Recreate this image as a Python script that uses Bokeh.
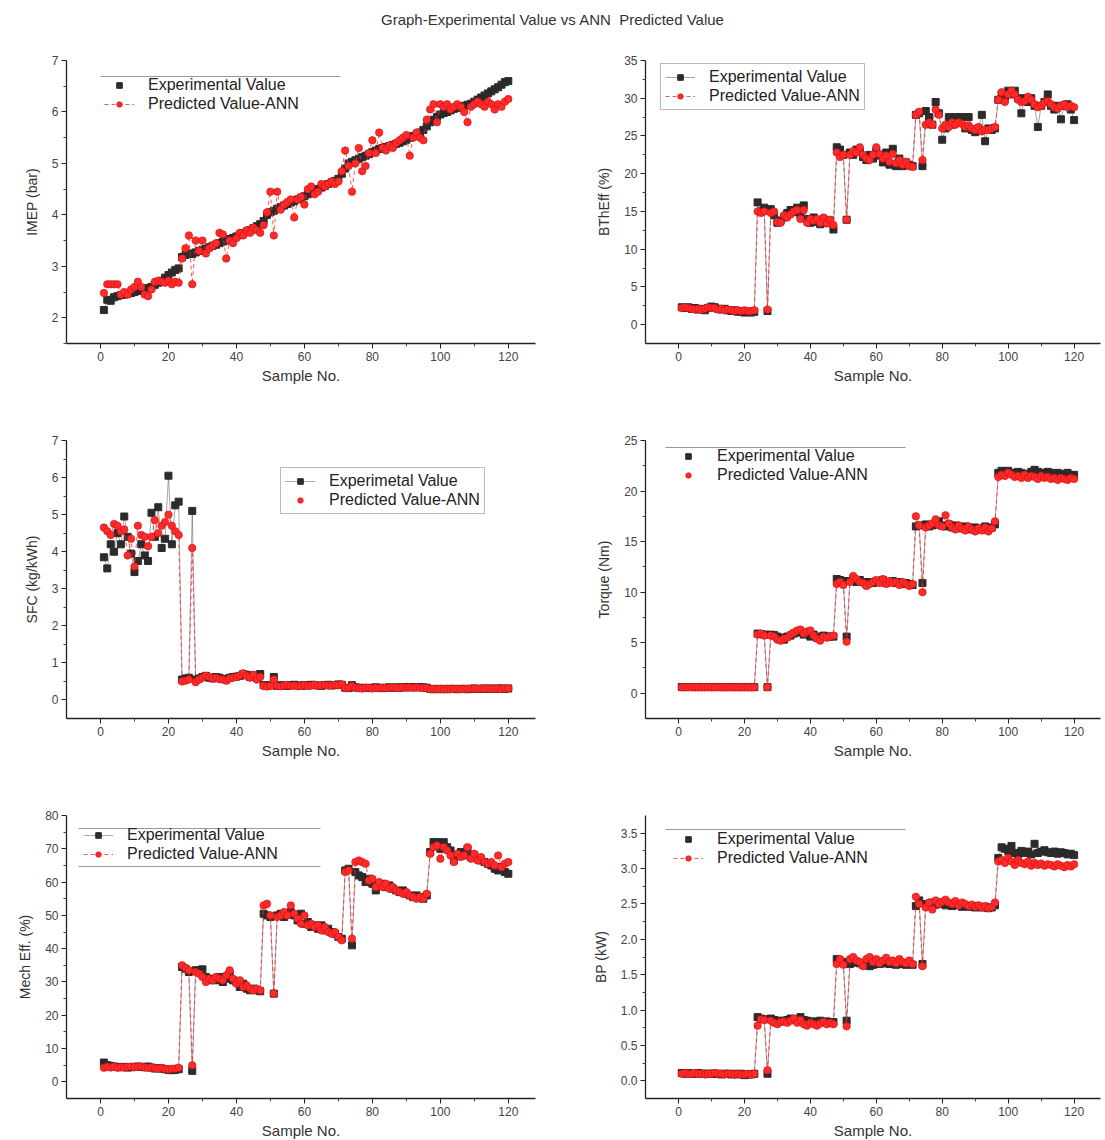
from bokeh.plotting import figure
from bokeh.models import FixedTicker, Legend, LegendItem, Div, Range1d, PrintfTickFormatter, BoxAnnotation
from bokeh.layouts import column, row
from bokeh.embed import file_html
from bokeh.resources import INLINE

samples = list(range(1, 121))

imep_exp = [
    2.15, 2.35, 2.33, 2.40, 2.42, 2.44, 2.45, 2.47, 2.48, 2.50,
    2.52, 2.54, 2.55, 2.58, 2.60, 2.64, 2.68, 2.72, 2.78, 2.83,
    2.88, 2.93, 2.96, 3.18, 3.22, 3.25, 3.24, 3.27, 3.30, 3.32,
    3.34, 3.37, 3.40, 3.42, 3.45, 3.48, 3.50, 3.53, 3.55, 3.58,
    3.61, 3.64, 3.67, 3.70, 3.74, 3.78, 3.82, 3.88, 4.00, 4.05,
    4.08, 4.12, 4.15, 4.18, 4.21, 4.24, 4.27, 4.30, 4.33, 4.36,
    4.40, 4.43, 4.47, 4.50, 4.53, 4.56, 4.60, 4.63, 4.66, 4.70,
    4.80, 4.90, 5.00, 5.03, 5.06, 5.09, 5.12, 5.15, 5.18, 5.22,
    5.25, 5.28, 5.30, 5.32, 5.34, 5.36, 5.38, 5.40, 5.43, 5.46,
    5.50, 5.53, 5.56, 5.60, 5.65, 5.72, 5.80, 5.85, 5.90, 5.95,
    5.98, 6.00, 6.03, 6.06, 6.08, 6.10, 6.12, 6.14, 6.16, 6.20,
    6.24, 6.28, 6.32, 6.36, 6.40, 6.44, 6.48, 6.53, 6.58, 6.60,
]
imep_pred = [
    2.48, 2.65, 2.65, 2.65, 2.65, 2.45, 2.50, 2.45, 2.55, 2.60,
    2.70, 2.60, 2.45, 2.42, 2.55, 2.70, 2.72, 2.70, 2.68, 2.72,
    2.65, 2.70, 2.68, 3.15, 3.35, 3.60, 2.65, 3.50, 3.30, 3.50,
    3.25, 3.35, 3.40, 3.45, 3.65, 3.62, 3.15, 3.50, 3.45, 3.55,
    3.65, 3.60, 3.70, 3.65, 3.75, 3.70, 3.65, 3.80, 4.05, 4.45,
    3.60, 4.45, 4.10, 4.20, 4.25, 4.30, 3.95, 4.30, 4.35, 4.20,
    4.50, 4.55, 4.40, 4.45, 4.60, 4.55, 4.60, 4.65, 4.60, 4.65,
    4.85, 5.25, 4.95, 4.45, 5.00, 5.30, 4.85, 4.95, 5.20, 5.45,
    5.20, 5.60, 5.30, 5.25, 5.35, 5.30, 5.40, 5.45, 5.50, 5.55,
    5.15, 5.50, 5.60, 5.50, 5.45, 5.85, 6.05, 6.15, 5.80, 6.15,
    6.10, 6.15, 6.05, 6.10, 6.15, 6.10, 6.00, 5.80, 6.10, 6.15,
    6.20, 6.15, 6.10, 6.20, 6.15, 6.05, 6.15, 6.10, 6.20, 6.25,
]

bth_exp = [
    2.3, 2.2, 2.3, 2.1, 2.2, 2.0, 2.1, 1.9, 2.2, 2.4,
    2.3, 2.1, 2.0, 2.1, 1.9, 1.8, 1.9, 1.7, 1.8, 1.6,
    1.7, 1.6, 1.7, 16.2, 15.0, 15.5, 1.8, 15.3, 14.5, 13.5,
    13.8, 14.2, 14.8, 15.2, 14.9, 15.5, 14.5, 15.8, 14.0, 13.5,
    14.2, 13.6, 13.3, 14.0, 13.5, 13.8, 12.6, 23.5, 23.2, 22.5,
    13.9, 22.8, 22.5, 23.2, 23.0, 22.2, 21.8, 22.5, 22.0, 23.0,
    22.4, 21.5, 22.8, 21.2, 23.3, 21.0, 22.0, 21.0, 21.5, 21.2,
    21.0, 27.8, 28.0, 21.0, 28.3, 27.5, 26.5, 29.5, 28.0, 24.5,
    26.0, 27.5, 26.5, 27.5, 26.8, 27.5, 26.0, 27.5, 25.8, 25.5,
    26.0, 27.8, 24.3, 26.0, 25.8, 26.0, 29.8, 30.5, 30.0, 31.0,
    30.5, 31.0, 30.0, 28.0, 30.0, 29.5, 30.0, 29.0, 26.2, 29.0,
    29.5, 30.5, 29.0, 28.5, 29.0, 27.2, 29.0, 29.2, 28.5, 27.1,
]
bth_pred = [
    2.2, 2.3, 2.2, 2.1, 2.0, 2.1, 2.0, 2.1, 2.3, 2.2,
    2.2, 2.0, 2.1, 1.9, 2.0, 1.9, 1.8, 1.9, 1.8, 1.9,
    1.8, 1.8, 1.9, 15.0, 14.8, 15.0, 2.0, 14.8, 15.0, 13.6,
    13.5, 14.5, 14.2, 14.6, 15.0, 15.2, 14.0, 15.2, 13.5, 14.0,
    13.8, 14.0, 13.5, 14.2, 13.4, 13.9, 13.2, 22.8, 22.2, 22.5,
    13.9, 22.5, 23.0, 22.8, 23.5, 22.5, 22.0, 21.8, 22.5, 23.5,
    22.6, 22.0, 22.4, 21.6, 22.6, 21.4, 21.8, 21.2, 21.6, 21.0,
    20.9, 27.8, 28.2, 21.8, 26.5, 26.8, 26.5, 28.5, 27.8, 26.0,
    26.5, 26.2, 26.8, 26.5, 26.8, 26.6, 26.2, 26.4, 26.0, 25.8,
    26.2, 25.6, 25.8, 25.8, 26.0, 26.2, 29.8, 30.8, 29.5, 30.5,
    31.0, 30.5, 29.8, 29.5, 29.6, 30.2, 29.8, 29.2, 28.8, 29.0,
    29.4, 29.6, 29.2, 28.8, 28.6, 29.0, 29.2, 28.8, 29.0, 28.8,
]

sfc_exp = [
    3.85, 3.55, 4.20, 4.00, 4.50, 4.20, 4.95, 4.40, 3.95, 3.45,
    3.75, 4.20, 3.90, 3.75, 5.05, 4.40, 5.20, 4.10, 4.35, 6.05,
    4.20, 5.25, 5.35, 0.55, 0.58, 0.60, 5.10, 0.55, 0.58, 0.62,
    0.65, 0.60, 0.58, 0.62, 0.60, 0.57, 0.55, 0.60, 0.62, 0.63,
    0.65, 0.70, 0.68, 0.62, 0.66, 0.60, 0.70, 0.40, 0.38, 0.40,
    0.62, 0.38, 0.40, 0.39, 0.38, 0.40, 0.41, 0.39, 0.38, 0.40,
    0.39, 0.41, 0.40, 0.39, 0.38, 0.40, 0.41, 0.39, 0.40, 0.42,
    0.41, 0.33, 0.32, 0.40, 0.34, 0.33, 0.32, 0.33, 0.32, 0.33,
    0.34, 0.33, 0.32, 0.33, 0.34, 0.33, 0.34, 0.33, 0.34, 0.35,
    0.34, 0.35, 0.34, 0.35, 0.34, 0.33, 0.30, 0.29, 0.30, 0.29,
    0.30, 0.29, 0.30, 0.30, 0.29, 0.30, 0.30, 0.29, 0.30, 0.31,
    0.30, 0.30, 0.31, 0.30, 0.31, 0.30, 0.31, 0.31, 0.30, 0.31,
]
sfc_pred = [
    4.65, 4.55, 4.45, 4.75, 4.70, 4.55, 4.60, 3.90, 4.35, 3.60,
    4.70, 4.45, 4.40, 4.15, 4.40, 4.85, 4.50, 4.70, 4.80, 5.00,
    4.70, 4.55, 4.45, 0.50, 0.52, 0.55, 4.10, 0.48, 0.55, 0.60,
    0.65, 0.62, 0.58, 0.60, 0.56, 0.55, 0.52, 0.58, 0.60, 0.62,
    0.66, 0.72, 0.65, 0.60, 0.68, 0.55, 0.62, 0.38, 0.36, 0.38,
    0.55, 0.38, 0.37, 0.39, 0.40, 0.38, 0.39, 0.37, 0.38, 0.40,
    0.38, 0.39, 0.41, 0.38, 0.39, 0.40, 0.39, 0.40, 0.41, 0.40,
    0.42, 0.32, 0.33, 0.38, 0.33, 0.32, 0.31, 0.33, 0.32, 0.31,
    0.33, 0.32, 0.33, 0.32, 0.33, 0.34, 0.33, 0.32, 0.34, 0.33,
    0.34, 0.33, 0.34, 0.33, 0.33, 0.32, 0.29, 0.30, 0.29, 0.30,
    0.29, 0.30, 0.29, 0.30, 0.30, 0.29, 0.30, 0.30, 0.31, 0.30,
    0.30, 0.31, 0.30, 0.31, 0.30, 0.30, 0.31, 0.30, 0.31, 0.31,
]

torque_exp = [
    0.62, 0.60, 0.62, 0.61, 0.60, 0.62, 0.60, 0.61, 0.62, 0.60,
    0.61, 0.62, 0.60, 0.61, 0.60, 0.62, 0.60, 0.61, 0.60, 0.62,
    0.60, 0.61, 0.60, 5.90, 5.85, 5.80, 0.60, 5.80, 5.75, 5.60,
    5.50, 5.30, 5.60, 5.70, 5.90, 6.00, 6.10, 5.80, 5.90, 5.60,
    5.80, 5.50, 5.60, 5.70, 5.60, 5.60, 5.60, 11.30, 11.20, 11.10,
    5.60, 11.10, 11.30, 11.00, 11.20, 11.00, 10.80, 11.00, 10.90, 11.10,
    11.00, 11.20, 10.90, 11.00, 11.10, 10.90, 11.00, 10.80, 10.90, 10.80,
    10.70, 16.50, 16.60, 10.90, 16.70, 16.50, 16.60, 16.80, 17.00, 16.60,
    16.50, 16.70, 16.40, 16.60, 16.50, 16.30, 16.50, 16.40, 16.20, 16.40,
    16.30, 16.20, 16.50, 16.30, 16.40, 16.70, 21.80, 22.00, 21.90, 22.00,
    21.80, 21.70, 21.90, 21.80, 21.60, 21.70, 21.90, 22.10, 21.90, 21.80,
    21.70, 21.90, 21.80, 21.70, 21.80, 21.60, 21.70, 21.80, 21.60, 21.60,
]
torque_pred = [
    0.58, 0.60, 0.59, 0.60, 0.58, 0.59, 0.60, 0.58, 0.60, 0.59,
    0.58, 0.60, 0.59, 0.58, 0.60, 0.59, 0.58, 0.60, 0.58, 0.59,
    0.60, 0.58, 0.59, 5.80, 5.90, 5.70, 0.60, 5.70, 5.60, 5.30,
    5.20, 5.40, 5.50, 5.80, 6.00, 6.20, 6.30, 5.90, 6.10, 6.20,
    5.70, 5.40, 5.20, 5.60, 5.50, 5.60, 5.70, 10.80, 11.00, 10.70,
    5.10, 11.00, 11.60, 11.30, 11.00, 10.90, 10.60, 10.80, 11.00, 11.20,
    10.90, 11.30, 10.80, 11.10, 10.90, 11.00, 10.70, 11.00, 10.80, 10.60,
    10.80, 17.50, 16.60, 10.00, 16.40, 16.60, 16.80, 17.20, 16.60, 16.50,
    17.60, 16.80, 16.40, 16.20, 16.60, 16.30, 16.10, 16.50, 16.20, 16.00,
    16.30, 16.10, 16.40, 16.00, 16.30, 17.00, 21.40, 21.60, 21.50, 21.80,
    21.60, 21.40, 21.50, 21.30, 21.60, 21.30, 21.50, 21.40, 21.20, 21.50,
    21.30, 21.40, 21.20, 21.30, 21.10, 21.30, 21.20, 21.10, 21.30, 21.20,
]

mech_exp = [
    5.8, 5.0, 4.8, 4.6, 4.5, 4.4, 4.5, 4.3, 4.4, 4.5,
    4.6, 4.5, 4.4, 4.6, 4.3, 4.0, 4.1, 4.0, 3.8, 3.6,
    3.5, 3.6, 3.8, 34.5, 34.0, 33.0, 3.3, 33.5, 33.5, 33.8,
    31.5, 30.5, 31.0, 30.5, 31.5, 30.0, 31.0, 32.5, 30.5, 30.0,
    28.5, 29.5, 28.0, 27.5, 28.0, 27.5, 27.2, 50.5, 50.0, 49.5,
    26.5, 50.0, 50.5, 49.5, 50.5, 51.0, 50.0, 48.5, 50.5, 47.5,
    48.0, 46.5, 47.0, 46.0, 47.0, 45.5, 46.0, 45.0, 44.5, 43.5,
    43.0, 63.5, 64.0, 41.0, 63.0, 62.0, 61.5, 60.0, 61.0, 59.5,
    57.5, 59.0, 59.5, 58.5, 59.0, 58.0, 57.5, 57.0, 57.5, 56.5,
    56.0, 55.5, 56.0, 55.5, 55.0, 56.0, 69.0, 72.0, 72.0, 70.0,
    72.0, 70.5, 69.5, 66.5, 68.0, 69.0, 68.0, 70.0, 67.5, 68.0,
    67.0, 66.5, 66.0, 65.5, 65.0, 64.0, 63.5, 64.5, 63.0, 62.5,
]
mech_pred = [
    4.2, 4.5, 4.3, 4.6, 4.2, 4.4, 4.3, 4.5, 4.6, 4.4,
    4.5, 4.6, 4.3, 4.2, 4.4, 4.1, 4.0, 4.2, 3.9, 3.8,
    3.9, 4.0, 4.2, 35.0, 34.2, 33.5, 5.0, 33.0, 32.5, 31.5,
    30.0, 31.0, 30.5, 31.5, 31.0, 30.5, 32.0, 33.5, 31.0, 29.5,
    30.5, 28.5, 29.0, 28.0, 27.5, 28.0, 27.5, 53.0, 53.5, 50.0,
    26.5, 49.5, 50.0, 51.0, 50.0, 53.0, 50.5, 49.0, 47.5, 50.0,
    47.0, 47.5, 46.5, 47.0, 45.5, 46.5, 45.0, 44.5, 45.0, 43.5,
    42.5, 63.0, 63.5, 43.0, 66.0, 66.5, 66.0, 65.5, 60.5, 61.0,
    58.5, 60.0, 58.5, 59.5, 58.0, 58.5, 57.5, 57.0, 56.5, 57.0,
    56.0, 55.5, 55.0, 55.5, 55.0, 56.5, 68.5, 70.5, 71.0, 67.0,
    70.5, 69.5, 68.0, 66.0, 68.5, 67.5, 68.0, 70.5, 67.0, 68.5,
    66.5, 67.5, 66.0, 65.5, 66.0, 65.0, 68.0, 64.5, 65.5, 66.0,
]

bp_exp = [
    0.11, 0.10, 0.11, 0.10, 0.10, 0.11, 0.10, 0.10, 0.10, 0.10,
    0.10, 0.10, 0.09, 0.10, 0.10, 0.09, 0.10, 0.09, 0.10, 0.08,
    0.09, 0.09, 0.10, 0.90, 0.88, 0.87, 0.10, 0.88, 0.86, 0.85,
    0.84, 0.85, 0.86, 0.88, 0.87, 0.86, 0.90, 0.86, 0.85, 0.84,
    0.83, 0.84, 0.85, 0.83, 0.84, 0.83, 0.83, 1.72, 1.70, 1.68,
    0.85, 1.65, 1.67, 1.68, 1.66, 1.64, 1.66, 1.62, 1.64, 1.66,
    1.65, 1.67, 1.66, 1.65, 1.66, 1.64, 1.66, 1.65, 1.64, 1.65,
    1.64, 2.47, 2.55, 1.65, 2.50, 2.48, 2.52, 2.49, 2.50, 2.52,
    2.48, 2.50, 2.47, 2.49, 2.48, 2.46, 2.47, 2.46, 2.47, 2.45,
    2.46, 2.45, 2.46, 2.44, 2.45, 2.48, 3.15, 3.30, 3.28, 3.25,
    3.32, 3.22, 3.20, 3.25, 3.22, 3.24, 3.20, 3.35, 3.22, 3.24,
    3.26, 3.23, 3.22, 3.24, 3.21, 3.23, 3.22, 3.20, 3.21, 3.19,
]
bp_pred = [
    0.10, 0.11, 0.10, 0.10, 0.11, 0.10, 0.10, 0.09, 0.10, 0.10,
    0.11, 0.10, 0.10, 0.09, 0.10, 0.10, 0.09, 0.10, 0.09, 0.09,
    0.10, 0.09, 0.10, 0.78, 0.87, 0.86, 0.15, 0.85, 0.82, 0.80,
    0.83, 0.84, 0.82, 0.85, 0.88, 0.82, 0.86, 0.80, 0.78, 0.82,
    0.80, 0.78, 0.81, 0.83, 0.80, 0.82, 0.80, 1.65, 1.72, 1.64,
    0.77, 1.72, 1.75, 1.70, 1.68, 1.62, 1.72, 1.75, 1.68, 1.72,
    1.66, 1.70, 1.74, 1.68, 1.70, 1.66, 1.72, 1.68, 1.66, 1.70,
    1.65, 2.60, 2.50, 1.62, 2.45, 2.52, 2.42, 2.55, 2.50, 2.53,
    2.56, 2.52, 2.50, 2.54, 2.48, 2.52, 2.50, 2.47, 2.49, 2.46,
    2.48, 2.45, 2.47, 2.44, 2.46, 2.52, 3.10, 3.12, 3.08, 3.15,
    3.10, 3.05, 3.12, 3.08, 3.06, 3.10, 3.04, 3.08, 3.05, 3.07,
    3.04, 3.06, 3.05, 3.03, 3.06, 3.04, 3.02, 3.05, 3.03, 3.06,
]

x_ticks = [0, 20, 40, 60, 80, 100, 120]
x_minor = [10, 30, 50, 70, 90, 110]
exp_label = "Experimental Value"
exp_label_sfc = "Experimetal Value"
pred_label = "Predicted Value-ANN"
title_text = "Graph-Experimental Value vs ANN  Predicted Value"

FONT = "Liberation Sans"
EXP_COLOR = "#2b2b2b"
PRED_FILL = "#ff2a2a"
PRED_LINE = "#d01010"


def panel(exp, pred, ylabel, yrange, yticks, yminor, left, right, top, bottom,
          fw, fh, leg_loc, exp_parts, pred_parts, leg_border, rules, fmt=None):
    p = figure(frame_width=fw, frame_height=fh,
               min_border_left=left, min_border_right=right,
               min_border_top=top, min_border_bottom=bottom,
               x_range=Range1d(-10, 128), y_range=Range1d(*yrange),
               output_backend="svg", toolbar_location=None)
    p.outline_line_color = None
    p.grid.visible = False
    p.background_fill_color = "white"
    p.border_fill_color = "white"

    el = p.line(samples, exp, line_color=EXP_COLOR, line_width=0.6, line_alpha=0.7)
    es = p.scatter(samples, exp, marker="square", size=7, fill_color=EXP_COLOR,
                   line_color=EXP_COLOR)
    pl = p.line(samples, pred, line_color=PRED_FILL, line_width=0.9, line_dash="4 3",
                line_alpha=0.9)
    ps = p.scatter(samples, pred, marker="circle", size=7.5, fill_color=PRED_FILL,
                   line_color=PRED_LINE, line_width=0.6)

    p.xaxis.ticker = FixedTicker(ticks=x_ticks, minor_ticks=x_minor)
    p.yaxis.ticker = FixedTicker(ticks=yticks, minor_ticks=yminor)
    if fmt:
        p.yaxis.formatter = PrintfTickFormatter(format=fmt)
    p.xaxis.axis_label = "Sample No."
    p.yaxis.axis_label = ylabel
    for ax in (p.xaxis, p.yaxis):
        ax.axis_line_color = "#222222"
        ax.axis_line_width = 1.3
        ax.major_tick_line_color = "#222222"
        ax.minor_tick_line_color = "#444444"
        ax.major_tick_in = 0
        ax.major_tick_out = 5
        ax.minor_tick_in = 0
        ax.minor_tick_out = 3
        ax.major_label_text_font = FONT
        ax.major_label_text_font_size = "12px"
        ax.major_label_text_color = "#444444"
        ax.axis_label_text_font = FONT
        ax.axis_label_text_font_style = "normal"
        ax.axis_label_text_color = "#333333"
        ax.major_label_standoff = 3
    p.xaxis.axis_label_text_font_size = "15px"
    p.yaxis.axis_label_text_font_size = "14px"
    p.xaxis.axis_label_standoff = 3
    p.yaxis.axis_label_standoff = 9

    parts = {"line_e": el, "scat_e": es, "line_p": pl, "scat_p": ps}
    items = [
        LegendItem(label=exp_parts[0], renderers=[parts[k] for k in exp_parts[1]]),
        LegendItem(label=pred_label, renderers=[parts[k] for k in pred_parts]),
    ]
    leg = Legend(items=items, location=leg_loc)
    leg.label_text_font = FONT
    leg.label_text_font_size = "16px"
    leg.label_text_color = "#222222"
    leg.glyph_width = 30
    leg.glyph_height = 14
    leg.label_height = 17
    leg.label_standoff = 14
    leg.spacing = 1
    leg.padding = 4
    leg.margin = 0
    leg.background_fill_alpha = 0
    if leg_border:
        leg.border_line_color = "#777777"
        leg.border_line_width = 1
    else:
        leg.border_line_color = None
    p.add_layout(leg)

    for (x0, x1, yy) in rules:
        p.add_layout(BoxAnnotation(left=x0, right=x1, bottom=yy - 0.5, top=yy + 0.5,
                                   left_units="screen", right_units="screen",
                                   top_units="screen", bottom_units="screen",
                                   fill_color="#999999", fill_alpha=1.0,
                                   line_color=None))
    return p


p1 = panel(imep_exp, imep_pred, "IMEP (bar)", (1.5, 7), [2, 3, 4, 5, 6, 7],
           [1.5, 2.5, 3.5, 4.5, 5.5, 6.5],
           66, 17, 20, 69, 469, 283, (38, 230),
           (exp_label, ["scat_e"]), ["line_p", "scat_p"], False, [(34, 274, 267)])
p2 = panel(bth_exp, bth_pred, "BThEff (%)", (-2.5, 35), [0, 5, 10, 15, 20, 25, 30, 35],
           [2.5, 7.5, 12.5, 17.5, 22.5, 27.5, 32.5],
           93, 5, 20, 69, 455, 283, (15, 233),
           (exp_label, ["line_e", "scat_e"]), ["line_p", "scat_p"], True, [])
p3 = panel(sfc_exp, sfc_pred, "SFC (kg/kWh)", (-0.5, 7), [0, 1, 2, 3, 4, 5, 6, 7],
           [0.5, 1.5, 2.5, 3.5, 4.5, 5.5, 6.5],
           66, 17, 28, 67, 469, 278, (214, 204),
           (exp_label_sfc, ["line_e", "scat_e"]), ["scat_p"], True, [])
p4 = panel(torque_exp, torque_pred, "Torque (Nm)", (-2.5, 25), [0, 5, 10, 15, 20, 25],
           [2.5, 7.5, 12.5, 17.5, 22.5],
           93, 5, 28, 67, 455, 278, (28, 234),
           (exp_label, ["scat_e"]), ["scat_p"], False, [(20, 260, 271)])
p5 = panel(mech_exp, mech_pred, "Mech Eff. (%)", (-5, 80), [0, 10, 20, 30, 40, 50, 60, 70, 80],
           [5, 15, 25, 35, 45, 55, 65, 75],
           66, 17, 30, 42, 469, 283, (17, 235),
           (exp_label, ["line_e", "scat_e"]), ["line_p", "scat_p"], False,
           [(12, 254, 270), (12, 254, 232)])
p6 = panel(bp_exp, bp_pred, "BP (kW)", (-0.25, 3.75), [0, 0.5, 1.0, 1.5, 2.0, 2.5, 3.0, 3.5],
           [0.25, 0.75, 1.25, 1.75, 2.25, 2.75, 3.25],
           93, 5, 30, 42, 455, 283, (28, 231),
           (exp_label, ["scat_e"]), ["line_p", "scat_p"], False, [(20, 260, 269)], fmt="%.1f")

title = Div(text=title_text, width=1105, height=40, margin=(0, 0, 0, 0),
            styles={"font-family": FONT, "font-size": "15px", "color": "#333333",
                    "text-align": "center", "line-height": "40px", "white-space": "pre",
                    "width": "1105px"})

layout = column(title, row(p1, p2, spacing=0), row(p3, p4, spacing=0),
                row(p5, p6, spacing=0), spacing=0)

open("out.html", "w").write(file_html(layout, INLINE))
